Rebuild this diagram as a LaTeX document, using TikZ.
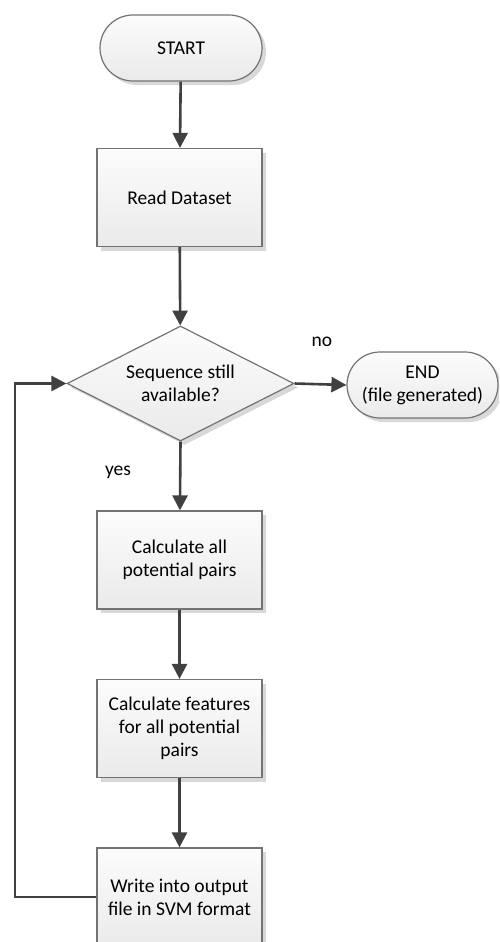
\documentclass[tikz,border=0pt]{standalone}
\usepackage{fontspec}
\setmainfont{Carlito}
\usetikzlibrary{shapes.geometric,shapes.misc,arrows.meta,shadows}
\definecolor{bordergray}{HTML}{737373}
\definecolor{arrowgray}{HTML}{404040}
\definecolor{filltop}{HTML}{FCFCFC}
\definecolor{fillbot}{HTML}{EAEAEA}
\definecolor{shadowgray}{HTML}{D8D8D8}
\tikzset{
  shapebase/.style={draw=bordergray, line width=1.2pt, top color=filltop, bottom color=fillbot,
    font=\fontsize{19.5}{23}\selectfont, align=center, inner sep=0pt,
    drop shadow={shadow xshift=4pt, shadow yshift=-4pt, fill=shadowgray, opacity=1}},
  procbox/.style={shapebase, rectangle, minimum width=165pt, minimum height=98pt},
  termbox/.style={shapebase, rounded rectangle, minimum height=66pt},
  decbox/.style={shapebase, diamond, minimum width=227pt, minimum height=115pt, aspect=1.97},
  flow/.style={draw=arrowgray, line width=2.6pt, -{Triangle[length=15pt,width=15pt]}},
  lbl/.style={font=\fontsize{19.5}{23}\selectfont, inner sep=0pt}
}
\begin{document}
\begin{tikzpicture}[x=1pt,y=-1pt]
\useasboundingbox (0,0) rectangle (499,942);
\begin{scope}
\clip (0,0) rectangle (499,942);
\node[termbox, minimum width=162pt] (start) at (181,48) {START};
\node[procbox] (read) at (179.5,197.5) {Read Dataset};
\node[decbox] (dec) at (180.5,383.5) {Sequence still\\available?};
\node[termbox, minimum width=151pt] (end) at (422.5,385) {END\\(file generated)};
\node[procbox] (pairs) at (179.5,560) {Calculate all\\potential pairs};
\node[procbox] (feat) at (179.5,728.5) {Calculate features\\for all potential\\pairs};
\node[procbox] (write) at (179.5,897) {Write into output\\file in SVM format};
\coordinate (lb) at (15,897);
\coordinate (lt) at (15,383.5);
\node[lbl] (no) at (322,342) {no};
\node[lbl] (yes) at (118,472) {yes};
\draw[flow] (start) -- (read);
\draw[flow] (read) -- (dec);
\draw[flow] (dec.east) -- (end.west);
\draw[flow] (dec.south) -- (pairs);
\draw[flow] (pairs) -- (feat);
\draw[flow] (feat) -- (write);
\draw[flow] (write.west) -- (lb) -- (lt) -- (dec.west);
\end{scope}
\end{tikzpicture}
\end{document}
